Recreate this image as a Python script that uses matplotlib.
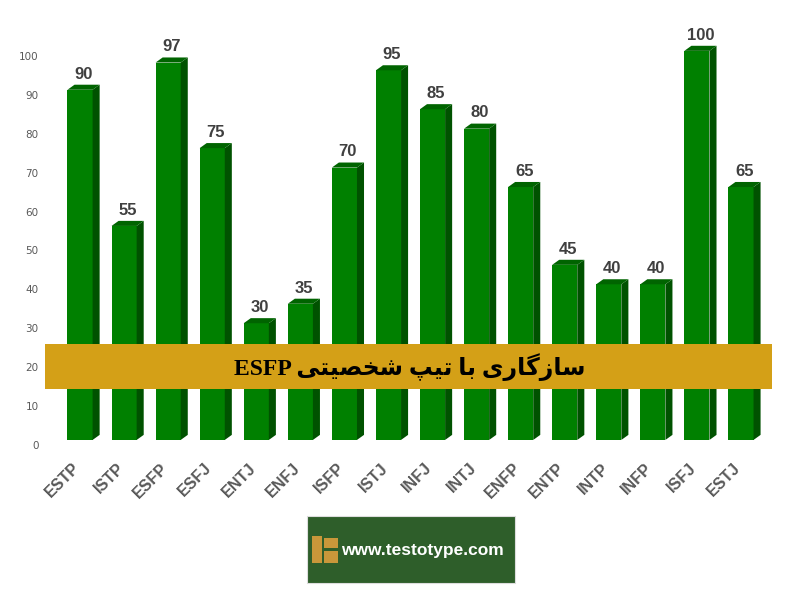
"""Gráfico de compatibilidad con el tipo ESFP"""
import matplotlib.pyplot as plt
import matplotlib.transforms as mtransforms
from matplotlib.patches import Polygon, Rectangle


# Datos
TIPOS = ["ESTP", "ISTP", "ESFP", "ESFJ", "ENTJ", "ENFJ", "ISFP", "ISTJ",
         "INFJ", "INTJ", "ENFP", "ENTP", "INTP", "INFP", "ISFJ", "ESTJ"]
VALORES = [90, 55, 97, 75, 30, 35, 70, 95, 85, 80, 65, 45, 40, 40, 100, 65]
TICKS_Y = list(range(0, 101, 10))
TITULO = "سازگاری با تیپ شخصیتی"
TITULO_TIPO = "ESFP"
SITIO = "www.testotype.com"

# Estilo
VERDE = "#008000"
VERDE_LADO = "#005200"
VERDE_TAPA = "#006400"
DORADO = "#D4A017"
GRIS = "#595959"
FUENTE = "Liberation Sans"
ANCHO = 0.57
PROF_X = 0.16
PROF_Y = 1.3
ELEVACION = 1.3

# Formas de presentación (aislada, final, inicial, media)
FORMAS = {
    "س": ("\uFEB1", "\uFEB2", "\uFEB3", "\uFEB4"),
    "ش": ("\uFEB5", "\uFEB6", "\uFEB7", "\uFEB8"),
    "ص": ("\uFEB9", "\uFEBA", "\uFEBB", "\uFEBC"),
    "خ": ("\uFEA5", "\uFEA6", "\uFEA7", "\uFEA8"),
    "ب": ("\uFE8F", "\uFE90", "\uFE91", "\uFE92"),
    "ت": ("\uFE95", "\uFE96", "\uFE97", "\uFE98"),
    "پ": ("\uFB56", "\uFB57", "\uFB58", "\uFB59"),
    "گ": ("\uFB92", "\uFB93", "\uFB94", "\uFB95"),
    "ی": ("\uFBFC", "\uFBFD", "\uFBFE", "\uFBFF"),
    "ا": ("\uFE8D", "\uFE8E", None, None),
    "ز": ("\uFEAF", "\uFEB0", None, None),
    "ر": ("\uFEAD", "\uFEAE", None, None),
}


def _une_izquierda(letra):
    # Letras que se unen con la siguiente
    return letra in FORMAS and FORMAS[letra][2] is not None


def _dar_forma(texto):
    # Convierte el texto persa a formas unidas en orden visual
    salida = []
    for i, letra in enumerate(texto):
        if letra not in FORMAS:
            salida.append(letra)
            continue
        previa = texto[i - 1] if i > 0 else " "
        siguiente = texto[i + 1] if i + 1 < len(texto) else " "
        une_antes = _une_izquierda(previa)
        une_despues = _une_izquierda(letra) and siguiente in FORMAS
        iso, fin, ini, med = FORMAS[letra]
        if une_antes and une_despues:
            salida.append(med)
        elif une_antes:
            salida.append(fin)
        elif une_despues:
            salida.append(ini)
        else:
            salida.append(iso)
    return "".join(salida)[::-1]


def _barra_3d(eje, x, valor):
    # Dibuja una barra con cara frontal, lateral y tapa
    x0 = x - ANCHO / 2
    x1 = x + ANCHO / 2
    y0 = ELEVACION
    y1 = valor + ELEVACION
    eje.add_patch(Rectangle((x0, y0), ANCHO, valor, facecolor=VERDE,
                            edgecolor="none", zorder=2))
    eje.add_patch(Polygon([(x1, y0), (x1 + PROF_X, y0 + PROF_Y),
                           (x1 + PROF_X, y1 + PROF_Y), (x1, y1)],
                          facecolor=VERDE_LADO, edgecolor="none", zorder=2))
    eje.add_patch(Polygon([(x0, y1), (x1, y1), (x1 + PROF_X, y1 + PROF_Y),
                           (x0 + PROF_X, y1 + PROF_Y)],
                          facecolor=VERDE_TAPA, edgecolor="none", zorder=2))
    eje.text(x + PROF_X / 2, y1 + PROF_Y + 0.8, str(valor), ha="center",
             va="bottom", fontsize=12, fontweight="bold", color="#404040",
             family=FUENTE)


figura = plt.figure(figsize=(8, 5.97), dpi=100)
eje = figura.add_axes([58 / 800, 152 / 597, 705 / 800, 428 / 597])
eje.set_xlim(-0.5, len(TIPOS) - 0.5)
eje.set_ylim(0, 110)

for i, valor in enumerate(VALORES):
    _barra_3d(eje, i, valor)

eje.set_yticks(TICKS_Y)
eje.set_yticklabels([str(t) for t in TICKS_Y], fontsize=7.5, color=GRIS)
eje.set_xticks(range(len(TIPOS)))
eje.set_xticklabels(TIPOS, rotation=45, ha="right", rotation_mode="anchor",
                    fontsize=11.5, fontweight="bold", color=GRIS,
                    family=FUENTE)
eje.tick_params(axis="both", length=0)
eje.tick_params(axis="x", pad=11)
eje.tick_params(axis="y", pad=14)
desplazamiento = mtransforms.ScaledTranslation(-8 / 100, 0,
                                               figura.dpi_scale_trans)
for etiqueta in eje.get_xticklabels():
    etiqueta.set_transform(etiqueta.get_transform() + desplazamiento)
for spine in eje.spines.values():
    spine.set_visible(False)

# Franja dorada con el título
figura.add_artist(Rectangle((45 / 800, 1 - 389 / 597), 727 / 800, 45 / 597,
                            transform=figura.transFigure, facecolor=DORADO,
                            edgecolor="none", zorder=3))
figura.text(410 / 800, 1 - 367 / 597, TITULO_TIPO + " " + _dar_forma(TITULO),
            ha="center", va="center", fontsize=17, fontweight="bold",
            color="black", family=["Liberation Serif", "DejaVu Sans"],
            zorder=4)

# Logo del sitio
figura.add_artist(Rectangle((307 / 800, 1 - 583 / 597), 208 / 800, 67 / 597,
                            transform=figura.transFigure, facecolor="#2E5E2A",
                            edgecolor="#DDDDDD", linewidth=0.8, zorder=3))
figura.add_artist(Rectangle((312 / 800, 1 - 563 / 597), 10 / 800, 27 / 597,
                            transform=figura.transFigure, facecolor="#C8973A",
                            edgecolor="none", zorder=4))
figura.add_artist(Rectangle((324 / 800, 1 - 563 / 597), 14 / 800, 12 / 597,
                            transform=figura.transFigure, facecolor="#C8973A",
                            edgecolor="none", zorder=4))
figura.add_artist(Rectangle((324 / 800, 1 - 548 / 597), 14 / 800, 10 / 597,
                            transform=figura.transFigure, facecolor="#C8973A",
                            edgecolor="none", zorder=4))
figura.text(341 / 800, 1 - 551 / 597, SITIO, ha="left", va="center",
            fontsize=12.5, fontweight="bold", color="white",
            family=FUENTE, zorder=5)

figura.savefig("out.png", dpi=100)
